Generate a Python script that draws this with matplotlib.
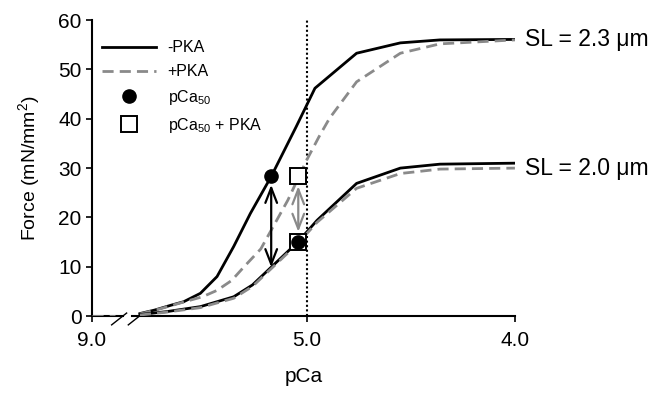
import numpy as np
import matplotlib
matplotlib.use("Agg")
from matplotlib import pyplot as plt

plt.rcParams['font.family'] = ['Liberation Sans', 'DejaVu Sans']
plt.rcParams['mathtext.fontset'] = 'custom'
plt.rcParams['mathtext.rm'] = 'Liberation Sans'
plt.rcParams['mathtext.it'] = 'Liberation Sans:italic'

# force-pCa curves (pCa, mN/mm^2)
pca_relax = 9.0
force_relax = 0.0

pca_23_nopka = [5.80, 5.73, 5.65, 5.59, 5.51, 5.43, 5.35, 5.27, 5.17, 5.05, 4.96, 4.76, 4.55, 4.36, 4.00]
force_23_nopka = [0.5, 1.2, 2.2, 2.9, 4.6, 8.0, 14.1, 20.8, 28.3, 38.4, 46.2, 53.3, 55.4, 56.0, 56.1]

pca_23_pka = [5.80, 5.70, 5.61, 5.50, 5.43, 5.36, 5.30, 5.22, 5.09, 5.00, 4.94, 4.89, 4.76, 4.55, 4.36, 4.00]
force_23_pka = [0.4, 1.5, 2.6, 3.9, 5.2, 7.2, 10.0, 13.6, 23.5, 31.6, 36.4, 40.1, 47.5, 53.3, 55.2, 56.0]

pca_20_nopka = [5.80, 5.67, 5.51, 5.35, 5.26, 5.18, 5.04, 4.95, 4.76, 4.55, 4.36, 4.00]
force_20_nopka = [0.3, 0.9, 1.9, 3.9, 6.3, 9.5, 15.1, 19.4, 26.9, 30.0, 30.8, 31.0]

pca_20_pka = [5.80, 5.67, 5.51, 5.35, 5.26, 5.18, 5.04, 4.95, 4.76, 4.55, 4.36, 4.00]
force_20_pka = [0.2, 0.8, 1.7, 3.6, 6.0, 9.2, 14.8, 19.0, 25.9, 28.9, 29.8, 30.0]

# pCa50 markers
pca50 = [5.17, 5.04]
f50 = [28.3, 15.1]
pca50_pka = [5.04, 5.04]
f50_pka = [28.3, 15.1]

ref_pca = 5.0
sl_labels = ["SL = 2.3 \u03bcm", "SL = 2.0 \u03bcm"]

# layout of the broken x axis
X9 = 6.03
BREAK = [5.90, 5.82]
GRAY = '#8a8a8a'
DASH = (0, (4, 2.2))

fig = plt.figure(figsize=(6.67, 3.96), dpi=100)
ax = fig.add_axes([0.138, 0.202, 0.634, 0.747])

ax.axvline(ref_pca, color='black', ls=(0, (1, 1.2)), lw=1.5, zorder=1)

curves = [(pca_23_nopka, force_23_nopka, 'black', '-'),
          (pca_23_pka, force_23_pka, GRAY, DASH),
          (pca_20_nopka, force_20_nopka, 'black', '-'),
          (pca_20_pka, force_20_pka, GRAY, DASH)]
for x, y, c, ls in curves:
    ax.plot(x, y, color=c, ls=ls, lw=2, zorder=3)
    # relaxing (pCa 9) segment, left of the axis break
    ax.plot([X9, BREAK[0] + 0.02], [force_relax, force_relax], color=c, ls=ls, lw=2, zorder=3)

# arrows between pCa50 points
top = f50[0]
bottom = np.interp(pca50[0], pca_20_nopka[::-1], force_20_nopka[::-1])
ax.annotate("", xy=(pca50[0], bottom), xytext=(pca50[0], top),
            arrowprops=dict(arrowstyle="<->,head_length=0.9,head_width=0.35", color='black',
                            lw=1.6, shrinkA=6, shrinkB=0, mutation_scale=12), zorder=4)
ax.annotate("", xy=(pca50_pka[1], f50_pka[1]), xytext=(pca50_pka[0], f50_pka[0]),
            arrowprops=dict(arrowstyle="<->,head_length=0.9,head_width=0.35", color=GRAY,
                            lw=1.6, shrinkA=7, shrinkB=7, mutation_scale=12), zorder=4)

ax.plot(pca50_pka, f50_pka, 's', ms=11, mfc='white', mec='black', mew=1.4, ls='none', zorder=5,
        label='pCa$_{50}$ + PKA')
ax.plot(pca50, f50, 'o', ms=9.5, color='black', ls='none', zorder=6, label='pCa$_{50}$')

# legend
ax.plot([], [], color='black', lw=2, label='-PKA')
ax.plot([], [], color=GRAY, lw=2, ls=DASH, label='+PKA')
hs, ls_ = ax.get_legend_handles_labels()
order = ['-PKA', '+PKA', 'pCa$_{50}$', 'pCa$_{50}$ + PKA']
hd = dict(zip(ls_, hs))
ax.legend([hd[k] for k in order], order, loc='upper left', bbox_to_anchor=(-0.01, 0.98),
          frameon=False, fontsize=11.5, handlelength=3.4, labelspacing=0.55, handletextpad=0.7)

# SL labels at the end of the curves
for lab, y in zip(sl_labels, [force_23_nopka[-1], force_20_pka[-1]]):
    ax.annotate(lab, xy=(4.0, y), xytext=(7, 0), textcoords='offset points',
                va='center', ha='left', fontsize=16.5, annotation_clip=False)

# axes
ax.set_xlim(X9, 4.0)
ax.set_ylim(0, 60)
ax.set_xticks([X9, 5.0, 4.0])
ax.set_xticklabels(['9.0', '5.0', '4.0'])
ax.set_yticks(np.arange(0, 61, 10))
ax.tick_params(labelsize=15, length=4, width=1.2, direction='out')
ax.tick_params(axis='x', pad=7)
for s in ['top', 'right', 'bottom']:
    ax.spines[s].set_visible(False)
ax.spines['left'].set_linewidth(1.5)

# bottom axis drawn in two pieces with break marks
ax.plot([X9, BREAK[0] - 0.02], [0, 0], color='black', lw=1.5, clip_on=False, zorder=2)
ax.plot([BREAK[1] + 0.02, 4.0], [0, 0], color='black', lw=1.5, clip_on=False, zorder=2)
for b in BREAK:
    ax.plot([b + 0.036, b - 0.036], [-1.8, 0.6], color='black', lw=1, clip_on=False, zorder=2)

ax.set_xlabel('pCa', fontsize=15, labelpad=12)
ax.set_ylabel('Force (mN/mm$^2$)', fontsize=14, labelpad=12)

fig.savefig('out.png', dpi=100)
